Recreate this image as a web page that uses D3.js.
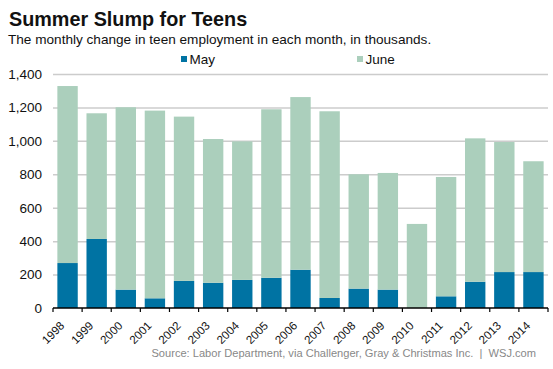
<!DOCTYPE html>
<html>
<head>
<meta charset="utf-8">
<script src="https://cdn.jsdelivr.net/npm/d3@7"></script>
<style>
  html, body { margin: 0; padding: 0; background: #fff; }
  svg { display: block; font-family: "Liberation Sans", Arial, sans-serif; }
</style>
</head>
<body>
<svg id="chart" width="553" height="369"></svg>
<script>
const years = ["1998","1999","2000","2001","2002","2003","2004","2005","2006","2007","2008","2009","2010","2011","2012","2013","2014"];
const mayValues  = [269, 413, 110, 58, 162, 151, 168, 181, 229, 60, 116, 110, 0, 70, 157, 215, 215];
const juneValues = [1059, 752, 1091, 1123, 983, 860, 829, 1008, 1033, 1117, 684, 698, 503, 714, 858, 778, 663];
const yTicks = [0, 200, 400, 600, 800, 1000, 1200, 1400];
const seriesNames = ["May", "June"];
const colors = {May: "#0073a3", June: "#abcfbc"};

const svg = d3.select("#chart");
const x0 = 53, x1 = 548, yBottom = 308, yTop = 74;

const x = d3.scaleBand().domain(years).range([x0, x1]).paddingInner(0.3).paddingOuter(0.15);
const y = d3.scaleLinear().domain([0, 1400]).range([yBottom, yTop]);

const table = years.map((yr, i) => ({year: yr, May: mayValues[i], June: juneValues[i]}));
const stacked = d3.stack().keys(seriesNames)(table);

// Title
svg.append("text").attr("x", 9).attr("y", 26)
  .style("font-size", "19.8px").style("font-weight", "bold").attr("fill", "#111")
  .text("Summer Slump for Teens");
svg.append("text").attr("x", 8).attr("y", 44)
  .style("font-size", "13.6px").attr("fill", "#111")
  .text("The monthly change in teen employment in each month, in thousands.");

// Legend
const legendX = {May: 181, June: 357};
seriesNames.forEach(k => {
  svg.append("rect").attr("x", legendX[k]).attr("y", 56).attr("width", 6).attr("height", 6).attr("fill", colors[k]);
  svg.append("text").attr("x", legendX[k] + 8.5).attr("y", 63.5)
    .style("font-size", "13.5px").attr("fill", "#111").text(k);
});

// Grid
const yAxis = d3.axisLeft(y).tickValues(yTicks).tickSize(-(x1 - x0)).tickPadding(11)
  .tickFormat(d3.format(","));
const gy = svg.append("g").attr("transform", `translate(${x0},0)`).call(yAxis);
gy.select(".domain").remove();
gy.selectAll(".tick line").attr("stroke", "#cccccc").attr("stroke-width", 1.5)
  .filter(d => d === 0).remove();
gy.selectAll(".tick text").style("font-size", "13.5px").attr("fill", "#111")
  .style("font-family", "'Liberation Sans', Arial, sans-serif");

// Bars
svg.append("g").selectAll("g").data(stacked).join("g")
  .attr("fill", d => colors[d.key])
  .selectAll("rect").data(d => d).join("rect")
  .attr("x", d => x(d.data.year))
  .attr("y", d => y(d[1]))
  .attr("height", d => Math.max(0, y(d[0]) - y(d[1])))
  .attr("width", x.bandwidth());

// X axis
const gx = svg.append("g").attr("transform", `translate(0,${yBottom})`);
gx.append("line").attr("x1", x0).attr("x2", x1).attr("stroke", "#000").attr("stroke-width", 1.5);
const boundaries = d3.range(years.length + 1).map(i => x0 + i * (x1 - x0) / years.length);
gx.selectAll("line.tk").data(boundaries).join("line").attr("class", "tk")
  .attr("x1", d => d).attr("x2", d => d).attr("y1", 0).attr("y2", 4)
  .attr("stroke", "#000").attr("stroke-width", 1.2);
gx.selectAll("text").data(years).join("text")
  .attr("transform", d => `translate(${x(d) + x.bandwidth() / 2 - 2.5},${18.5}) rotate(-45)`)
  .attr("text-anchor", "end")
  .style("font-size", "11.6px").attr("fill", "#111").text(d => d);

// Source
svg.append("text").attr("x", 536).attr("y", 357).attr("text-anchor", "end")
  .style("font-size", "11.1px").attr("fill", "#888")
  .text("Source: Labor Department, via Challenger, Gray & Christmas Inc.  |  WSJ.com")
  .attr("xml:space", "preserve").style("white-space", "pre");
</script>
</body>
</html>
